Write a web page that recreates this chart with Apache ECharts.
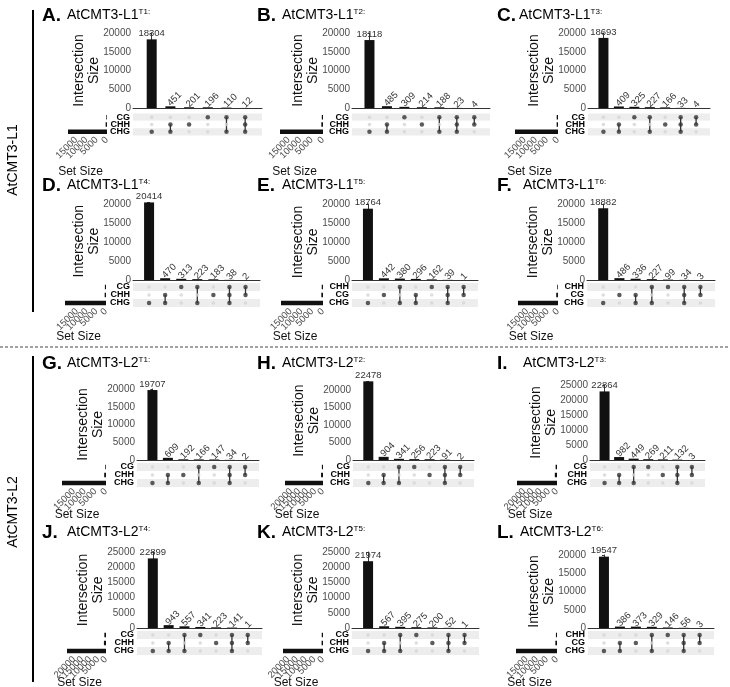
<!DOCTYPE html>
<html><head><meta charset="utf-8">
<script src="https://cdn.jsdelivr.net/npm/echarts@6/dist/echarts.min.js"></script>
<style>html,body{margin:0;padding:0;background:#fff}#c{width:730px;height:687px}</style>
</head><body><div id="c"></div>
<script>
// ---------- DATA ----------
const letters = ['A.','B.','C.','D.','E.','F.','G.','H.','I.','J.','K.','L.'];
const names = ['AtCMT3-L1','AtCMT3-L1','AtCMT3-L1','AtCMT3-L1','AtCMT3-L1','AtCMT3-L1',
               'AtCMT3-L2','AtCMT3-L2','AtCMT3-L2','AtCMT3-L2','AtCMT3-L2','AtCMT3-L2'];
const sups = ['T1:','T2:','T3:','T4:','T5:','T6:','T1:','T2:','T3:','T4:','T5:','T6:'];
const groupLabels = ['AtCMT3-L1','AtCMT3-L2'];

const setsA = ['CG','CHH','CHG'];
const valuesA = [18304,451,201,196,110,12];
const combosA = [['CHG'],['CHH','CHG'],['CHH'],['CG'],['CG','CHG'],['CG','CHH','CHG']];
const sizesA = [318,664,18877];

const setsB = ['CG','CHH','CHG'];
const valuesB = [18118,485,309,214,188,23,4];
const combosB = [['CHG'],['CHH','CHG'],['CG'],['CHH'],['CG','CHG'],['CG','CHH','CHG'],['CG','CHH']];
const sizesB = [524,726,18814];

const setsC = ['CG','CHH','CHG'];
const valuesC = [18693,409,325,227,166,33,4];
const combosC = [['CHG'],['CHH','CHG'],['CG'],['CG','CHG'],['CHH'],['CG','CHH','CHG'],['CG','CHH']];
const sizesC = [589,612,19362];

const setsD = ['CG','CHH','CHG'];
const valuesD = [20414,470,313,223,183,38,2];
const combosD = [['CHG'],['CHH','CHG'],['CG'],['CG','CHG'],['CHH'],['CG','CHH','CHG'],['CG','CHH']];
const sizesD = [576,693,21145];

const setsE = ['CHH','CG','CHG'];
const valuesE = [18764,442,380,296,162,39,1];
const combosE = [['CHG'],['CG'],['CHH','CHG'],['CG','CHG'],['CHH'],['CHH','CG','CHG'],['CHH','CG']];
const sizesE = [582,778,19479];

const setsF = ['CHH','CG','CHG'];
const valuesF = [18882,486,336,227,99,34,3];
const combosF = [['CHG'],['CG'],['CG','CHG'],['CHH','CHG'],['CHH'],['CHH','CG','CHG'],['CHH','CG']];
const sizesF = [363,859,19479];

const setsG = ['CG','CHH','CHG'];
const valuesG = [19707,609,192,166,147,34,2];
const combosG = [['CHG'],['CHH','CHG'],['CHH'],['CG','CHG'],['CG'],['CG','CHH','CHG'],['CG','CHH']];
const sizesG = [349,837,20516];

const setsH = ['CG','CHH','CHG'];
const valuesH = [22478,904,341,256,223,91,2];
const combosH = [['CHG'],['CHH','CHG'],['CG','CHG'],['CG'],['CHH'],['CG','CHH','CHG'],['CG','CHH']];
const sizesH = [690,1220,23814];

const setsI = ['CG','CHH','CHG'];
const valuesI = [22864,982,449,269,211,132,3];
const combosI = [['CHG'],['CHH','CHG'],['CG','CHG'],['CG'],['CHH'],['CG','CHH','CHG'],['CG','CHH']];
const sizesI = [853,1328,24427];

const setsJ = ['CG','CHH','CHG'];
const valuesJ = [22899,943,557,341,223,141,1];
const combosJ = [['CHG'],['CHH','CHG'],['CG','CHG'],['CG'],['CHH'],['CG','CHH','CHG'],['CG','CHH']];
const sizesJ = [1040,1308,24540];

const setsK = ['CG','CHH','CHG'];
const valuesK = [21974,567,395,275,200,52,1];
const combosK = [['CHG'],['CHH','CHG'],['CG','CHG'],['CG'],['CHH'],['CG','CHH','CHG'],['CG','CHH']];
const sizesK = [723,820,22988];

const setsL = ['CHH','CG','CHG'];
const valuesL = [19547,386,373,329,146,56,3];
const combosL = [['CHG'],['CG','CHG'],['CG'],['CHH','CHG'],['CHH'],['CHH','CG','CHG'],['CHH','CG']];
const sizesL = [534,818,20318];

// top tick label of intersection axis, highest set-size tick label
const topTicks = [20000,20000,20000,20000,20000,20000,20000,20000,25000,25000,25000,20000];
const setSizeTopTicks = [15000,15000,15000,15000,15000,15000,15000,20000,20000,20000,20000,15000];

// ---------- LAYOUT ----------
const rowGeo = [
  {tickY:33, base:108, mTop:113.5, mH:22, titleY:16, ssNameY:172},
  {tickY:204, base:280, mTop:283, mH:24, titleY:186, ssNameY:337},
  {tickY:389, base:460, mTop:463, mH:24, titleY:364, ssNameY:515},
  {tickY:552, base:628, mTop:631, mH:24, titleY:533, ssNameY:683}
];
rowGeo[2].tickYs = [389,390,385];
rowGeo[3].tickYs = [552,552,555];
const colGeo = [
  {ax:133, rx:262, sl:68, sr:107, lx:42, nx:67},
  {ax:352, rx:490, sl:280, sr:323, lx:257, nx:282},
  {ax:588, rx:710, sl:515, sr:558, lx:497, nx:519},
  {ax:133, rx:260, sl:65, sr:106, lx:42, nx:67},
  {ax:352, rx:478, sl:281, sr:323, lx:257, nx:282},
  {ax:587, rx:715, sl:518, sr:558, lx:497, nx:523},
  {ax:137, rx:259, sl:62, sr:106, lx:42, nx:67},
  {ax:353, rx:474, sl:285, sr:323, lx:257, nx:282},
  {ax:590, rx:705, sl:517, sr:557, lx:497, nx:523},
  {ax:137, rx:262, sl:67, sr:106, lx:42, nx:67},
  {ax:352, rx:479, sl:283, sr:323, lx:257, nx:282},
  {ax:588, rx:714, sl:516, sr:557, lx:497, nx:520}
];

const panels = [
  [setsA,valuesA,combosA,sizesA],[setsB,valuesB,combosB,sizesB],[setsC,valuesC,combosC,sizesC],
  [setsD,valuesD,combosD,sizesD],[setsE,valuesE,combosE,sizesE],[setsF,valuesF,combosF,sizesF],
  [setsG,valuesG,combosG,sizesG],[setsH,valuesH,combosH,sizesH],[setsI,valuesI,combosI,sizesI],
  [setsJ,valuesJ,combosJ,sizesJ],[setsK,valuesK,combosK,sizesK],[setsL,valuesL,combosL,sizesL]
];

const FONT = 'Liberation Sans, Arial, Helvetica, sans-serif';
const grid = [], xAxis = [], yAxis = [], series = [], graphic = [];

panels.forEach((pd, p) => {
  const [sets, values, combos, sizes] = pd;
  const row = Math.floor(p / 3), col = p % 3;
  const rg = rowGeo[row], cg = colGeo[p];
  const tickY = rg.tickYs ? rg.tickYs[col] : rg.tickY;
  const n = values.length;
  const topTick = topTicks[p];
  const ymax = Math.max(topTick, values[0]);
  const ppu = (rg.base - tickY) / topTick;
  const gTop = rg.base - ymax * ppu;
  const gi = grid.length;
  const xmin = -1.0, xmax = n - 1 + 0.9;

  // bar grid
  grid.push({left: cg.ax, top: gTop, width: cg.rx - cg.ax, height: rg.base - gTop});
  xAxis.push({gridIndex: gi, type: 'value', min: xmin, max: xmax, axisLine: {show: true, onZero: false, lineStyle: {color: '#333', width: 1}},
    axisTick: {show: false}, axisLabel: {show: false}, splitLine: {show: false}});
  yAxis.push({gridIndex: gi, type: 'value', min: 0, max: ymax, interval: 5000,
    axisLine: {show: true, lineStyle: {color: '#333', width: 1}},
    axisTick: {show: true, length: 2, lineStyle: {color: '#333'}},
    axisLabel: {fontSize: 10, color: '#4d4d4d', margin: 2, fontFamily: FONT, formatter: v => (v % 5000 === 0 ? String(v) : '')},
    splitLine: {show: false},
    name: 'Intersection\nSize', nameLocation: 'middle', nameGap: 31, nameRotate: 90, nameMoveOverlap: false,
    nameTextStyle: {fontSize: 14, color: '#111', fontFamily: FONT, lineHeight: 15}});
  series.push({type: 'bar', xAxisIndex: gi, yAxisIndex: gi, barWidth: 10, itemStyle: {color: '#111'},
    data: values.map((v, i) => i === 0 ? {value: [i, v], label: {rotate: 0, align: 'center', verticalAlign: 'bottom', distance: 1, offset: [0, 0]}} : {value: [i, v]}),
    label: {show: true, position: 'top', rotate: 45, align: 'left', verticalAlign: 'middle', distance: 3, offset: [-2, 0],
      fontSize: 9.5, color: '#333', fontFamily: FONT, formatter: q => String(q.value[1])},
    animation: false});

  // matrix grid
  const mi = grid.length;
  grid.push({left: cg.ax, top: rg.mTop, width: cg.rx - cg.ax, height: rg.mH});
  xAxis.push({gridIndex: mi, type: 'value', min: xmin, max: xmax, show: false});
  yAxis.push({gridIndex: mi, type: 'category', data: sets, inverse: true,
    axisLine: {show: false}, axisTick: {show: false},
    axisLabel: {interval: 0, fontSize: 9, fontWeight: 'bold', color: '#000', margin: 3, fontFamily: FONT, lineHeight: 8},
    splitArea: {show: true, interval: 0, areaStyle: {color: ['#ededed', '#ffffff']}},
    splitLine: {show: false}});
  const dots = [];
  combos.forEach((c, i) => {
    sets.forEach((s, j) => {
      const on = c.includes(s);
      dots.push({value: [i, j], symbolSize: on ? 4.5 : 3.5, itemStyle: {color: on ? '#333' : '#d4d4d4'}});
    });
  });
  series.push({type: 'scatter', xAxisIndex: mi, yAxisIndex: mi, data: dots, z: 3, animation: false});
  const segs = [];
  combos.forEach((c, i) => {
    if (c.length > 1) {
      const idx = c.map(s => sets.indexOf(s));
      segs.push([i, Math.min(...idx), Math.max(...idx)]);
    }
  });
  series.push({type: 'custom', xAxisIndex: mi, yAxisIndex: mi, data: segs, z: 2, animation: false,
    encode: {x: 0, y: 1},
    renderItem: (params, api) => {
      const a = api.coord([api.value(0), api.value(1)]);
      const b = api.coord([api.value(0), api.value(2)]);
      return {type: 'line', shape: {x1: a[0], y1: a[1], x2: b[0], y2: b[1]}, style: {stroke: '#333', lineWidth: 1.3}};
    }});

  // set size grid
  const si = grid.length;
  const ssTop = setSizeTopTicks[p];
  grid.push({left: cg.sl, top: rg.mTop, width: cg.sr - cg.sl, height: rg.mH});
  xAxis.push({gridIndex: si, type: 'value', inverse: true, min: 0, max: Math.max(...sizes), interval: 5000,
    axisLine: {show: false}, axisTick: {show: false}, splitLine: {show: false},
    axisLabel: {rotate: 45, fontSize: 9.5, color: '#4d4d4d', margin: 3, fontFamily: FONT,
      formatter: v => (v % 5000 === 0 && v <= ssTop ? String(v) : '')}});
  yAxis.push({gridIndex: si, type: 'category', data: sets, inverse: true, show: false});
  series.push({type: 'bar', xAxisIndex: si, yAxisIndex: si, data: sizes, barWidth: 4.5, itemStyle: {color: '#111'}, animation: false});
  graphic.push({type: 'text', x: (cg.sl + cg.sr) / 2 - 7, y: rg.ssNameY,
    style: {text: 'Set Size', fontSize: 12, fill: '#111', fontFamily: FONT, align: 'center', verticalAlign: 'middle'}});

  // title
  graphic.push({type: 'text', left: cg.lx, top: rg.titleY - 10,
    style: {text: letters[p], fontSize: 19, fontWeight: 'bold', fill: '#000', fontFamily: FONT}});
  graphic.push({type: 'text', left: cg.nx, top: rg.titleY - 8,
    style: {text: '{n|' + names[p] + '}{s|' + sups[p] + '}', fill: '#000', fontFamily: FONT,
      rich: {n: {fontSize: 14, fontFamily: FONT, fill: '#000'}, s: {fontSize: 8, fontFamily: FONT, verticalAlign: 'top', fill: '#000'}}}});
});

// group labels, separator lines
graphic.push({type: 'text', x: 13, y: 160, rotation: Math.PI / 2,
  style: {text: groupLabels[0], fontSize: 14, fill: '#000', fontFamily: FONT, align: 'center', verticalAlign: 'middle'}});
graphic.push({type: 'text', x: 13, y: 512, rotation: Math.PI / 2,
  style: {text: groupLabels[1], fontSize: 14, fill: '#000', fontFamily: FONT, align: 'center', verticalAlign: 'middle'}});
graphic.push({type: 'line', shape: {x1: 33, y1: 10, x2: 33, y2: 312}, style: {stroke: '#000', lineWidth: 2}});
graphic.push({type: 'line', shape: {x1: 33, y1: 356, x2: 33, y2: 682}, style: {stroke: '#000', lineWidth: 2}});
graphic.push({type: 'line', shape: {x1: 0, y1: 347, x2: 730, y2: 347}, style: {stroke: '#444', lineWidth: 1, lineDash: [3, 2]}});

const chart = echarts.init(document.getElementById('c'), null, {renderer: 'canvas'});
chart.setOption({animation: false, backgroundColor: '#fff', grid, xAxis, yAxis, series, graphic});
</script></body></html>
